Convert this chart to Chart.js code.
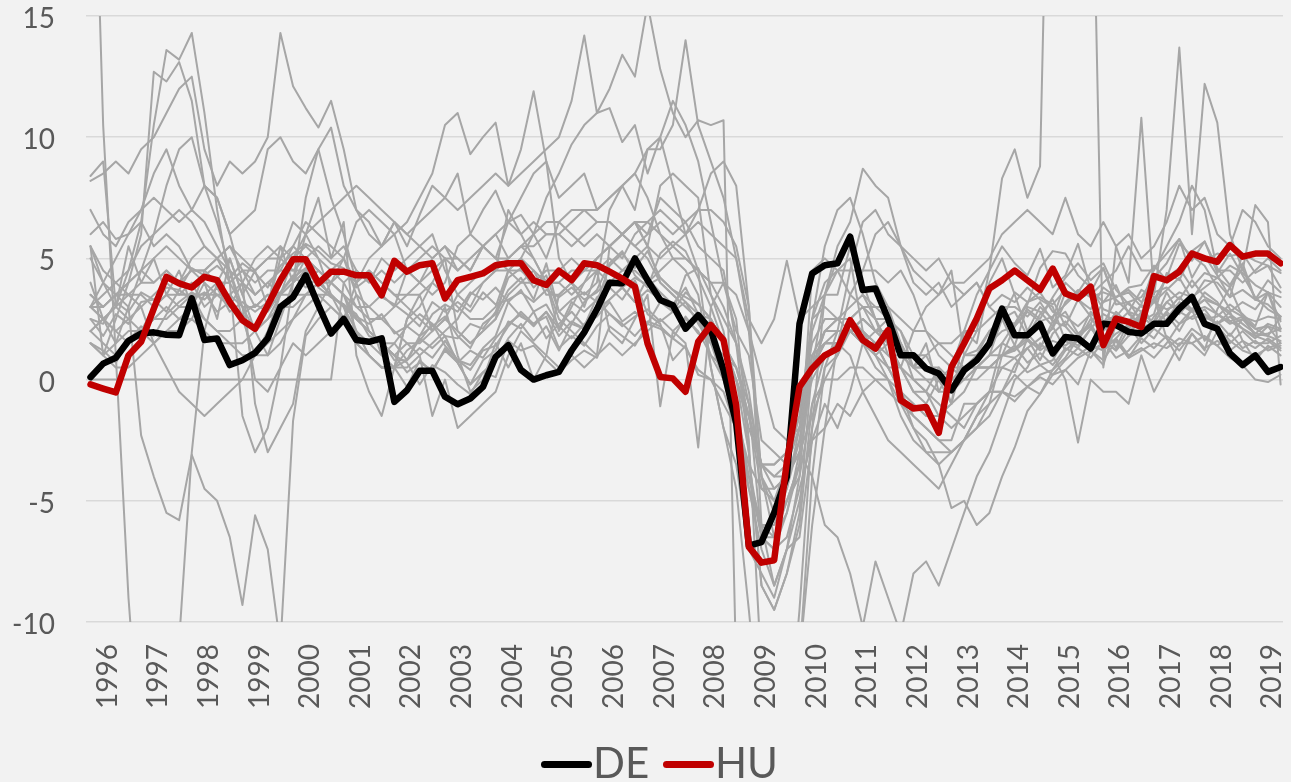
<!DOCTYPE html>
<html>
<head>
<meta charset="utf-8">
<title>GDP growth, DE and HU against the other EU countries</title>
<script src="https://cdn.jsdelivr.net/npm/chart.js@4.4.1/dist/chart.umd.min.js"></script>
<style>
  html, body { margin: 0; padding: 0; background: #f2f2f2; overflow: hidden; }
  #box { position: relative; width: 1291px; height: 782px; overflow: hidden; }
  #legend { position: absolute; left: 0; top: 0; width: 1291px; height: 782px; pointer-events: none;
            font-family: Lato, 'Open Sans', sans-serif; font-size: 42px; color: #595959; }
  #legend .key { position: absolute; top: 761px; width: 51px; height: 7px; border-radius: 3.5px; }
  #legend .lab { position: absolute; top: 741px; line-height: 42px; white-space: nowrap; }
</style>
</head>
<body>
<div id="box">
  <canvas id="growthChart"></canvas>
  <div id="legend"></div>
</div>
<script>
// year labels on the x axis (one per year, quarterly data underneath)
const tickYears = ['1996', '1997', '1998', '1999', '2000', '2001', '2002', '2003', '2004', '2005', '2006', '2007',
                   '2008', '2009', '2010', '2011', '2012', '2013', '2014', '2015', '2016', '2017', '2018', '2019'];
const yTicks = [-10, -5, 0, 5, 10, 15];

// highlighted countries, y/y growth in %, one value per quarter (95 quarters)
const de = [0.1,
  0.66, 0.9, 1.6, 1.9,  1.95, 1.85, 1.83, 3.35,  1.63, 1.7, 0.6, 0.8,  1.1, 1.7, 3.0, 3.4,  4.3, 3.07, 1.9, 2.5,  1.63, 1.56, 1.7, -0.92,
  -0.44, 0.36, 0.36, -0.71,  -1.02, -0.78, -0.3, 0.94,  1.42, 0.4, 0.0, 0.18,  0.32, 1.2, 1.95, 2.9,  4.0, 3.97, 5.0, 4.1,  3.28, 3.07, 2.1, 2.66,
  2.04, 0.4, -1.8, -6.85,  -6.7, -5.5, -4.0, 2.3,  4.38, 4.72, 4.8, 5.9,  3.7, 3.76, 2.5, 1.0,  1.0, 0.46, 0.25, -0.44,  0.39, 0.8, 1.49, 2.93,
  1.83, 1.83, 2.3, 1.08,  1.76, 1.7, 1.28, 2.3,  2.25, 1.97, 1.9, 2.3,  2.3, 2.93, 3.41, 2.3,  2.1, 1.08, 0.6, 1.0,  0.32, 0.52];

const hu = [-0.2,
  -0.37, -0.53, 1.0, 1.56,  2.93, 4.24, 3.97, 3.8,  4.24, 4.1, 3.2, 2.45,  2.1, 3.07, 4.1, 4.96,  4.96, 3.97, 4.45, 4.45,  4.3, 4.3, 3.48, 4.9,
  4.45, 4.72, 4.8, 3.35,  4.1, 4.24, 4.38, 4.72,  4.8, 4.8, 4.1, 3.9,  4.49, 4.1, 4.8, 4.72,  4.45, 4.17, 3.83, 1.49,  0.11, 0.05, -0.5, 1.56,
  2.25, 1.63, -1.05, -6.9,  -7.55, -7.45, -3.4, -0.3,  0.46, 1.0, 1.28, 2.45,  1.63, 1.28, 2.04, -0.85,  -1.19, -1.13, -2.2, 0.52,  1.49, 2.52, 3.76, 4.1,
  4.5, 4.1, 3.7, 4.58,  3.55, 3.35, 3.83, 1.42,  2.52, 2.38, 2.17, 4.27,  4.1, 4.45, 5.2, 5.0,  4.86, 5.55, 5.07, 5.2,  5.2, 4.8];

// the other countries, drawn in grey
const ee = [8.4,
  9.0, 3.0, 4.5, 6.5,  10.5, 13.6, 13.2, 14.3,  11.0, 7.0, 4.0, -1.5,  -3.0, -2.0, 0.5, 4.0,  7.5, 9.5, 10.4, 8.0,  7.0, 6.5, 5.5, 6.5,
  5.5, 6.8, 8.0, 7.5,  8.5, 6.0, 7.0, 7.8,  6.5, 6.8, 6.0, 7.5,  8.5, 9.7, 10.5, 11.0,  11.2, 9.8, 10.5, 8.5,  10.0, 8.0, 6.0, 4.5,
  0.5, -2.0, -4.5, -9.5,  -15.0, -16.5, -15.5, -9.5,  -2.0, 3.5, 5.5, 6.5,  8.7, 8.0, 7.5, 5.5,  4.5, 4.0, 3.5, 4.5,  1.0, 1.2, 2.0, 2.5,
  1.4, 3.0, 2.8, 2.2,  1.2, 1.6, 1.4, 2.3,  1.3, 2.4, 3.1, 4.6,  5.2, 5.8, 4.2, 5.1,  4.3, 3.4, 5.2, 4.4,  4.7, 3.8];
const lv = [5.5,
  1.0, 2.5, 4.0, 6.0,  12.7, 12.3, 13.1, 11.5,  8.0, 6.5, 4.5, 2.5,  1.0, 2.0, 3.5, 5.0,  6.0, 6.5, 7.0, 7.5,  8.0, 7.5, 7.0, 6.5,
  6.0, 6.5, 7.0, 7.5,  7.0, 7.5, 8.0, 8.5,  8.0, 8.5, 9.0, 9.5,  10.0, 11.5, 14.2, 11.0,  12.0, 13.4, 12.5, 15.5,  12.8, 11.0, 10.0, 10.7,
  10.5, 10.7, -12.0, -18.0,  -19.0, -18.0, -15.0, -11.5,  -6.0, -2.0, 1.5, 3.5,  4.5, 6.0, 6.5, 5.5,  5.0, 4.5, 5.0, 4.0,  3.5, 4.0, 3.0, 2.5,
  2.8, 1.8, 2.7, 3.3,  2.2, 3.3, 2.6, 1.7,  1.2, 2.1, 2.8, 3.3,  4.2, 4.6, 5.3, 5.7,  4.4, 5.2, 4.3, 3.4,  2.9, 2.6];
const lt = [3.0,
  4.0, 5.0, 6.0, 7.0,  8.5, 9.5, 8.0, 7.0,  8.0, 7.5, 6.0, 4.0,  -1.0, -3.0, -2.0, -1.0,  2.0, 3.0, 4.0, 5.0,  6.5, 7.0, 6.5, 6.0,
  6.5, 7.5, 8.5, 10.5,  11.0, 9.3, 10.0, 10.6,  8.0, 9.5, 11.9, 9.0,  7.5, 8.0, 8.5, 7.0,  7.5, 8.0, 7.0, 9.5,  10.0, 11.5, 10.5, 9.0,
  6.5, 4.0, 2.5, -2.5,  -12.0, -14.5, -13.5, -11.5,  -4.0, 0.5, 2.0, 4.5,  6.5, 7.0, 6.0, 5.5,  4.0, 3.5, 4.0, 3.0,  3.5, 4.0, 3.0, 3.5,
  3.2, 3.8, 3.3, 3.0,  1.6, 1.3, 2.1, 2.7,  2.4, 1.9, 2.7, 3.2,  3.7, 4.2, 3.3, 4.1,  4.0, 3.4, 3.7, 3.3,  4.1, 3.6];
const bg = [28.0,
  10.5, 1.0, -9.0, -16.0,  -20.0, -15.0, -10.8, -3.0,  2.0, 4.0, 5.0, 3.5,  2.0, 1.0, 2.5, 4.0,  5.0, 5.5, 5.0, 5.5,  4.5, 4.0, 4.5, 4.0,
  4.5, 5.0, 5.5, 5.0,  5.0, 4.5, 5.5, 6.0,  6.5, 6.0, 6.5, 6.0,  6.0, 5.5, 6.0, 6.5,  6.5, 6.0, 6.5, 6.0,  6.5, 6.0, 6.5, 7.0,
  7.0, 6.5, 5.5, 3.0,  -4.0, -5.5, -5.0, -4.0,  -1.0, 0.0, 1.0, 2.0,  2.5, 2.0, 1.5, 1.0,  0.5, 0.5, 0.0, 0.5,  0.0, 0.5, 1.0, 1.5,
  1.2, 1.6, 1.3, 2.2,  3.6, 3.3, 2.9, 3.8,  3.4, 3.7, 3.2, 3.6,  3.8, 3.3, 4.1, 3.4,  3.1, 2.8, 3.2, 2.9,  3.6, 3.4];
const ro = [5.5,
  4.0, 3.5, 3.0, -2.3,  -4.0, -5.5, -5.8, -3.1,  -4.5, -5.0, -6.5, -9.3,  -5.6, -7.0, -11.0, -1.7,  1.8, 2.5, 3.0, 2.5,  4.0, 5.0, 5.5, 6.0,
  4.5, 4.0, 5.0, 5.5,  4.5, 5.0, 5.5, 5.0,  6.5, 7.5, 8.5, 9.0,  5.0, 4.0, 3.5, 4.0,  7.0, 8.0, 8.5, 7.5,  6.0, 5.5, 6.0, 7.0,
  8.5, 9.0, 8.0, 3.0,  -6.0, -8.5, -7.0, -6.5,  -2.5, -1.0, -2.0, -0.5,  1.5, 2.0, 2.5, 2.0,  0.5, 1.5, -0.5, 0.5,  2.0, 1.5, 4.0, 5.0,
  3.5, 2.0, 3.0, 2.5,  4.0, 3.5, 3.5, 4.0,  4.5, 5.5, 4.5, 4.5,  5.5, 6.5, 8.0, 7.0,  4.5, 4.5, 4.0, 4.5,  5.0, 4.5];
const pl = [7.0,
  6.0, 5.5, 6.5, 7.0,  7.5, 7.0, 6.5, 7.0,  6.5, 5.5, 4.5, 3.0,  2.0, 3.0, 5.0, 6.5,  6.0, 5.0, 3.5, 2.5,  2.0, 1.0, 0.5, 0.5,
  0.5, 1.0, 1.5, 2.0,  2.5, 3.5, 4.0, 4.5,  7.0, 6.0, 5.0, 4.0,  2.0, 3.0, 4.0, 5.0,  5.5, 6.0, 6.5, 6.5,  7.0, 6.5, 6.0, 6.5,
  6.0, 5.5, 5.0, 2.5,  1.5, 2.5, 4.9, 2.5,  3.0, 3.5, 4.5, 4.5,  4.5, 4.5, 4.0, 4.5,  3.5, 2.0, 1.0, 0.5,  0.5, 1.0, 2.0, 2.5,
  3.6, 3.2, 3.4, 3.1,  3.7, 3.3, 3.6, 4.6,  3.1, 3.2, 2.4, 2.7,  4.4, 4.1, 5.2, 4.9,  5.2, 5.1, 5.2, 4.9,  4.7, 4.4];
const ie = [8.2,
  8.5, 9.0, 8.5, 9.5,  10.0, 11.0, 12.0, 12.5,  9.5, 8.0, 9.0, 8.5,  9.0, 10.0, 14.3, 12.1,  11.2, 10.4, 11.5, 9.5,  7.0, 6.0, 5.5, 6.5,
  6.0, 5.5, 6.0, 4.5,  3.5, 3.0, 4.0, 4.5,  4.5, 5.0, 6.0, 5.0,  6.5, 6.0, 5.5, 6.0,  5.5, 5.0, 6.0, 6.5,  6.0, 5.0, 4.5, 3.5,
  0.5, -2.0, -3.5, -7.0,  -8.0, -9.0, -7.0, -5.0,  -2.0, 0.5, 1.0, 2.5,  3.0, 2.5, 1.5, 0.5,  0.0, -0.5, 0.5, -1.0,  1.0, 2.0, 4.5, 8.3,
  9.5, 7.5, 8.8, 32.0,  30.0, 28.0, 25.7, 0.5,  5.5, 4.0, 10.8, 3.5,  7.0, 13.7, 6.0, 12.2,  10.6, 6.0, 4.5, 7.2,  6.5, -0.2];
const el = [2.0,
  2.5, 3.0, 2.5, 3.0,  3.5, 4.0, 3.5, 4.0,  3.0, 3.5, 3.0, 4.0,  3.0, 3.5, 3.0, 3.5,  4.0, 4.5, 4.0, 4.5,  4.0, 4.5, 4.0, 3.5,
  3.5, 4.0, 3.5, 4.0,  5.5, 6.0, 5.5, 6.0,  5.0, 5.5, 5.0, 4.0,  2.5, 2.0, 1.5, 1.0,  5.5, 6.0, 6.5, 5.5,  4.0, 3.5, 3.0, 2.5,
  1.5, 1.0, 0.5, -1.5,  -3.5, -4.5, -4.0, -3.0,  -4.0, -6.0, -6.5, -8.0,  -10.2, -7.5, -9.0, -10.5,  -8.0, -7.5, -8.5, -7.0,  -5.5, -4.0, -3.0, -1.5,
  0.0, 0.5, 1.5, 1.0,  0.0, -2.6, 0.0, -0.5,  -0.5, -1.0, 1.0, -0.5,  0.5, 1.5, 1.5, 1.0,  2.0, 1.5, 2.0, 1.5,  1.5, 1.8];
const cy = [3.0,
  2.5, 2.0, 1.5, 2.0,  2.5, 3.0, 2.5, 3.0,  4.5, 5.0, 5.5, 5.0,  4.5, 5.0, 5.5, 5.0,  5.5, 5.0, 4.5, 5.0,  4.0, 4.5, 4.0, 3.5,
  3.0, 2.5, 2.0, 2.5,  2.0, 1.5, 2.0, 2.5,  3.5, 4.0, 4.5, 4.0,  4.0, 3.5, 4.0, 4.5,  4.0, 4.5, 4.5, 4.0,  4.5, 5.0, 5.0, 4.5,
  4.0, 4.0, 3.5, 2.0,  0.0, -2.0, -2.5, -2.0,  0.0, 1.0, 1.5, 2.0,  1.5, 0.5, 0.0, -1.0,  -2.0, -2.5, -3.5, -5.3,  -5.0, -6.0, -5.5, -4.0,
  -2.8, -1.3, -0.6, 0.4,  1.2, 1.7, 2.3, 3.2,  3.4, 3.8, 3.9, 4.7,  4.1, 4.6, 3.8, 4.4,  4.2, 3.8, 4.6, 3.3,  3.6, 3.0];
const pt = [3.5,
  3.0, 3.5, 4.0, 4.5,  4.0, 4.5, 4.0, 5.0,  5.5, 5.0, 4.5, 4.0,  3.5, 4.0, 3.5, 4.0,  4.5, 4.0, 3.5, 3.0,  2.5, 2.0, 1.5, 1.0,
  1.5, 1.0, -1.5, 0.0,  -2.0, -1.5, -1.0, -0.5,  1.0, 2.0, 1.5, 1.0,  0.5, 1.0, 0.5, 1.0,  1.5, 1.0, 1.5, 2.0,  2.5, 2.0, 2.5, 2.0,
  1.0, 0.5, 0.0, -2.0,  -3.5, -4.0, -3.5, -2.0,  1.0, 1.5, 1.5, 1.0,  -0.5, -1.5, -2.5, -3.0,  -3.5, -4.0, -4.5, -3.5,  -2.5, -1.5, -1.0, 1.0,
  0.9, 1.3, 0.6, 0.8,  1.7, 1.4, 2.1, 1.6,  0.9, 1.2, 1.8, 2.6,  3.2, 2.8, 2.5, 2.7,  2.3, 2.6, 2.1, 1.8,  1.9, 2.1];
const es = [2.5,
  1.8, 2.7, 2.3, 3.2,  3.3, 3.8, 3.7, 4.6,  4.3, 4.7, 4.2, 4.8,  4.4, 3.8, 4.7, 5.2,  5.6, 5.3, 4.8, 4.6,  3.8, 4.2, 3.4, 3.1,
  2.7, 2.2, 3.2, 2.8,  3.2, 2.8, 3.6, 3.1,  3.3, 3.6, 3.2, 3.7,  3.4, 3.8, 3.3, 3.6,  4.1, 3.8, 4.2, 3.9,  4.2, 3.7, 3.4, 3.1,
  2.5, 1.5, 0.0, -1.5,  -3.5, -4.0, -4.0, -3.0,  -1.5, 0.0, 0.0, 0.5,  0.5, 0.0, -0.5, -1.0,  -1.5, -2.0, -2.5, -3.0,  -2.5, -2.0, -1.5, -0.5,
  0.6, 1.3, 1.7, 2.1,  3.2, 3.7, 3.4, 3.6,  3.4, 3.6, 3.0, 3.2,  2.9, 3.1, 2.8, 3.0,  2.7, 2.3, 2.5, 2.1,  2.2, 2.0];
const it = [1.5,
  1.0, 0.5, 0.5, 1.0,  1.5, 2.0, 2.0, 2.5,  2.0, 1.5, 1.5, 1.0,  1.0, 1.0, 1.5, 2.5,  3.0, 3.5, 3.5, 3.0,  2.5, 2.0, 1.5, 1.0,
  0.3, 0.7, 0.4, 1.2,  0.7, -0.2, 0.3, 0.1,  1.6, 1.2, 1.4, 0.8,  0.3, 0.8, 1.2, 0.9,  2.2, 1.8, 1.4, 2.3,  2.1, 1.7, 1.3, 0.4,
  0.0, -1.0, -2.0, -3.5,  -6.5, -6.5, -5.0, -3.5,  0.5, 1.5, 1.5, 2.0,  1.5, 1.0, 0.5, -0.5,  -2.0, -3.0, -3.0, -3.0,  -2.5, -2.0, -1.0, -0.5,
  0.2, -0.3, 0.1, -0.2,  0.4, 0.9, 1.2, 0.8,  1.6, 0.9, 1.2, 1.5,  1.3, 1.7, 1.5, 1.8,  1.4, 0.9, 0.6, 0.0,  -0.1, 0.2];
const fi = [3.0,
  3.5, 4.0, 4.5, 5.5,  6.0, 6.5, 7.0, 6.5,  5.5, 5.0, 5.5, 4.5,  3.5, 4.0, 4.5, 5.5,  6.5, 6.0, 5.5, 5.0,  3.5, 2.0, 1.5, 1.5,
  0.8, 1.8, 2.2, 2.6,  1.8, 1.3, 2.3, 2.7,  3.7, 4.2, 3.3, 4.8,  2.8, 2.3, 3.2, 3.7,  4.8, 5.3, 4.3, 3.8,  5.2, 5.7, 5.3, 4.2,
  3.0, 1.5, 0.0, -3.0,  -8.5, -9.5, -8.0, -5.5,  0.5, 3.5, 3.5, 5.5,  3.5, 2.5, 2.5, 1.5,  0.0, -0.5, -1.5, -2.0,  -1.5, -1.0, -0.5, -0.5,
  -0.9, -0.3, -0.6, 0.2,  0.4, -0.2, 1.2, 0.6,  2.3, 2.8, 2.1, 2.4,  3.6, 2.7, 3.3, 2.6,  2.3, 2.8, 1.6, 1.3,  1.7, 1.3];
const sk = [6.0,
  6.5, 5.8, 6.0, 6.5,  5.5, 6.0, 5.5, 4.5,  4.5, 5.0, 4.0, 3.0,  0.0, -0.5, 0.5, 1.5,  1.0, 1.5, 2.0, 2.5,  3.5, 3.0, 3.5, 3.0,
  4.5, 4.0, 4.5, 5.0,  4.5, 5.0, 5.5, 5.0,  5.0, 5.5, 5.5, 6.0,  6.0, 6.5, 7.0, 7.0,  7.5, 8.0, 8.5, 9.5,  9.5, 10.5, 14.0, 10.5,
  9.0, 7.5, 5.0, 2.0,  -4.0, -6.5, -5.0, -3.5,  4.5, 5.0, 4.5, 3.5,  3.0, 3.0, 3.0, 2.5,  2.0, 2.0, 1.5, 1.0,  0.5, 0.5, 0.5, 1.0,
  2.2, 2.8, 2.4, 2.6,  3.1, 3.6, 4.4, 4.8,  3.7, 3.1, 2.8, 2.3,  3.2, 3.6, 3.4, 3.8,  4.2, 4.7, 4.4, 3.9,  3.6, 2.1];
const si = [3.5,
  3.0, 3.5, 4.0, 4.5,  5.0, 5.5, 5.0, 4.5,  4.0, 3.5, 3.5, 4.0,  5.0, 5.5, 5.0, 4.5,  4.5, 4.0, 4.0, 3.5,  3.0, 3.0, 2.5, 3.0,
  3.5, 3.5, 4.0, 3.5,  3.0, 2.5, 2.5, 3.0,  4.5, 4.5, 4.0, 4.0,  4.0, 4.5, 4.5, 5.0,  5.5, 6.0, 5.5, 6.0,  7.5, 7.0, 6.5, 5.5,
  5.0, 4.5, 1.5, -3.0,  -8.5, -9.5, -8.0, -6.0,  -1.0, 1.0, 1.5, 2.0,  2.0, 1.0, 0.0, -1.5,  -2.5, -3.0, -3.5, -3.0,  -2.5, -1.5, -0.5, 1.5,
  2.3, 3.2, 3.6, 2.8,  2.6, 2.2, 2.7, 2.4,  2.6, 3.2, 3.4, 4.2,  4.8, 5.8, 4.9, 5.7,  4.6, 3.9, 4.8, 3.3,  3.1, 2.6];
const hr = [0,
  0, 0, 0, 0,  0, 0, 0, 0,  0, 0, 0, 0,  0, 0, 0, 0,  0, 0, 0, 4.0,  4.5, 4.0, 5.0, 4.5,
  5.0, 5.5, 5.0, 5.5,  5.0, 4.5, 5.5, 5.0,  4.5, 4.0, 4.0, 4.5,  4.5, 5.0, 4.5, 4.5,  5.0, 4.5, 5.0, 5.5,  5.0, 5.5, 5.0, 4.5,
  4.0, 3.0, 1.5, -1.0,  -6.5, -7.0, -6.5, -4.5,  -2.5, -2.0, -1.0, -1.5,  -0.5, 0.0, 0.0, -0.5,  -1.5, -2.0, -2.5, -2.5,  -1.0, -1.0, -0.5, -0.5,
  -0.7, -0.3, 0.2, 0.4,  0.9, 1.7, 2.8, 2.3,  3.3, 2.8, 3.7, 3.4,  2.3, 3.1, 2.9, 2.5,  2.6, 3.1, 2.7, 2.2,  3.6, 2.4];
const mt = [5.0,
  4.0, 3.0, 5.5, 4.0,  5.0, 3.5, 4.5, 3.0,  4.0, 2.5, 5.0, 3.5,  4.5, 3.0, 5.5, 4.0,  6.0, 7.5, 5.0, 6.5,  1.0, -0.5, -1.5, 0.5,
  2.5, 3.5, 2.0, 3.0,  1.0, -0.5, 0.0, 1.5,  0.5, 1.5, 0.0, 1.0,  3.5, 4.0, 3.0, 4.5,  2.0, 1.5, 2.5, 3.5,  -1.1, 2.0, 1.5, -2.8,
  3.0, 4.0, 2.0, 1.0,  -2.5, -3.0, -3.5, -1.5,  2.5, 4.0, 4.5, 5.0,  2.0, 1.0, 1.5, 0.5,  2.0, 3.0, 3.5, 4.0,  4.0, 4.5, 5.0, 6.0,
  6.5, 7.0, 6.5, 6.0,  7.5, 6.0, 5.5, 6.5,  5.5, 6.0, 5.0, 5.5,  6.5, 8.0, 7.0, 7.5,  6.0, 5.5, 7.0, 6.5,  5.5, 5.0];
const nl = [3.0,
  3.0, 3.5, 3.5, 4.0,  4.0, 4.5, 4.0, 4.5,  4.5, 4.0, 4.0, 4.5,  4.5, 5.0, 5.0, 5.5,  5.0, 4.5, 4.0, 3.5,  2.5, 2.0, 1.5, 1.0,
  0.7, -0.2, 0.6, 0.3,  -0.2, -0.6, 0.3, 0.8,  1.7, 2.3, 1.6, 2.2,  1.2, 2.3, 2.1, 2.8,  3.3, 3.8, 3.2, 3.7,  3.3, 2.8, 4.3, 4.6,
  3.5, 2.5, 1.5, -0.5,  -4.0, -5.0, -4.5, -2.5,  0.5, 1.5, 1.5, 2.0,  2.5, 2.0, 1.5, 0.5,  -0.5, -0.5, -1.0, -1.5,  -2.0, -1.0, -0.5, 0.5,
  0.3, 1.7, 0.8, 1.9,  2.4, 1.8, 2.2, 1.2,  1.7, 2.3, 2.6, 2.2,  2.8, 3.4, 2.9, 3.3,  3.1, 2.7, 2.3, 1.9,  1.8, 1.6];
const se = [2.0,
  1.5, 1.0, 1.5, 2.0,  2.5, 2.5, 3.0, 3.5,  3.5, 4.0, 4.0, 4.5,  4.0, 4.5, 4.5, 4.5,  5.0, 4.5, 4.0, 3.5,  2.0, 1.5, 1.0, 1.5,
  2.2, 2.7, 2.3, 1.8,  1.7, 2.3, 2.1, 2.8,  4.2, 4.6, 3.8, 4.3,  2.8, 3.3, 3.6, 3.2,  4.7, 5.2, 4.6, 5.3,  4.2, 3.7, 3.2, 2.7,
  1.5, 0.5, -1.0, -4.0,  -6.5, -7.0, -5.5, -3.0,  2.5, 5.5, 7.0, 7.5,  6.0, 4.0, 3.0, 1.5,  0.5, 1.0, 0.0, -0.5,  1.0, 1.0, 1.5, 2.0,
  2.2, 2.9, 2.5, 3.4,  4.2, 4.8, 4.1, 4.6,  3.3, 2.8, 2.6, 2.2,  2.8, 2.3, 2.9, 3.3,  2.7, 2.4, 2.1, 1.7,  2.2, 1.5];
const cz = [5.5,
  4.5, 4.0, 3.5, 3.0,  1.5, 0.5, -0.5, -1.0,  -1.5, -1.0, -0.5, 0.0,  1.0, 1.5, 2.0, 2.5,  3.5, 4.0, 4.5, 4.0,  3.0, 2.5, 2.5, 2.0,
  1.5, 1.5, 2.0, 2.5,  3.5, 4.0, 4.5, 4.5,  5.0, 5.5, 6.0, 6.5,  6.5, 7.0, 7.0, 6.5,  6.5, 6.0, 5.5, 5.0,  4.0, 3.5, 3.0, 2.5,
  1.0, 0.0, -1.5, -3.5,  -4.5, -5.0, -3.5, -2.0,  2.5, 3.0, 2.5, 2.0,  2.0, 1.5, 0.5, -0.5,  -1.0, -1.5, -1.5, -1.0,  -0.5, 0.5, 1.0, 2.5,
  2.3, 3.1, 4.6, 5.3,  5.2, 4.3, 3.8, 2.9,  2.7, 1.8, 2.6, 3.2,  4.2, 5.6, 5.1, 4.7,  3.8, 2.9, 2.6, 2.4,  2.6, 2.5];
const uk = [2.5,
  2.3, 3.2, 2.8, 3.6,  3.3, 2.8, 3.7, 3.3,  3.6, 2.8, 3.2, 2.7,  3.1, 2.8, 3.6, 4.2,  4.6, 3.8, 3.4, 3.1,  2.6, 2.3, 2.7, 1.9,
  2.2, 1.8, 2.7, 3.1,  2.8, 3.6, 3.3, 3.8,  3.2, 2.6, 2.3, 2.8,  2.1, 3.2, 2.8, 3.3,  2.7, 2.2, 2.6, 2.9,  2.4, 2.8, 3.2, 2.3,
  1.5, 0.0, -2.0, -4.5,  -6.0, -6.0, -4.5, -2.0,  1.0, 2.0, 2.0, 2.0,  1.5, 1.5, 1.0, 1.0,  1.0, 1.0, 1.5, 1.5,  2.0, 2.0, 2.5, 3.0,
  3.0, 2.6, 3.2, 2.4,  2.8, 1.9, 2.3, 1.4,  1.9, 2.2, 1.5, 2.1,  1.7, 1.2, 1.9, 1.3,  1.6, 1.2, 1.6, 0.8,  1.4, 1.0];
const fr = [1.5,
  1.2, 0.7, 1.6, 2.2,  1.8, 2.7, 3.2, 3.6,  3.3, 3.8, 2.8, 3.2,  2.8, 3.2, 3.6, 4.3,  3.8, 4.2, 3.4, 3.1,  2.7, 1.8, 1.6, 0.8,
  0.8, 1.3, 0.9, 1.6,  0.8, 0.4, 1.2, 1.4,  2.2, 2.8, 2.3, 2.6,  1.3, 1.8, 1.4, 2.2,  2.7, 2.3, 1.8, 2.4,  2.2, 1.7, 2.6, 1.9,
  1.5, 0.5, 0.0, -1.5,  -3.5, -3.5, -3.0, -1.5,  1.0, 1.5, 2.0, 2.0,  2.5, 2.0, 2.0, 1.5,  0.5, 0.5, 0.0, 0.0,  0.0, 0.5, 0.5, 1.0,
  1.4, 0.7, 1.1, 0.6,  1.3, 1.0, 1.4, 1.2,  1.7, 1.0, 1.3, 0.9,  1.5, 2.3, 2.6, 2.9,  2.2, 1.6, 1.2, 1.0,  1.3, 1.5];
const at = [2.0,
  2.5, 2.0, 2.5, 2.0,  1.5, 2.0, 2.5, 2.5,  3.5, 3.5, 3.5, 3.0,  3.0, 3.5, 3.5, 3.5,  3.5, 3.5, 3.0, 2.5,  1.5, 1.0, 0.5, 0.5,
  0.8, 1.7, 1.3, 1.8,  0.7, 1.2, 0.9, 1.7,  2.3, 2.7, 2.2, 2.8,  1.8, 2.4, 2.1, 2.9,  3.3, 3.8, 3.2, 4.2,  3.6, 3.1, 3.8, 2.7,
  2.5, 1.5, 0.5, -1.5,  -4.5, -4.5, -4.0, -2.5,  0.5, 2.0, 2.5, 3.0,  3.5, 3.0, 2.5, 2.0,  1.0, 0.5, 0.5, 0.0,  0.0, 0.5, 0.5, 0.5,
  0.9, 0.3, 0.6, 0.2,  0.8, 1.3, 0.9, 1.6,  1.2, 1.8, 2.1, 1.7,  2.5, 3.2, 2.8, 3.6,  3.2, 2.4, 2.6, 1.8,  1.6, 1.2];
const be = [1.5,
  1.0, 1.5, 2.0, 2.0,  3.0, 3.5, 3.5, 3.5,  2.5, 2.0, 1.5, 1.5,  2.0, 2.5, 3.5, 4.0,  4.5, 4.0, 3.5, 3.0,  2.0, 1.0, 0.5, 0.5,
  1.2, 1.6, 2.3, 1.4,  0.8, 0.6, 1.3, 1.8,  3.2, 3.7, 2.8, 3.1,  2.2, 1.7, 2.3, 2.6,  3.2, 2.4, 2.8, 2.3,  3.2, 2.8, 3.6, 3.1,
  2.5, 1.5, 0.5, -1.0,  -3.5, -3.5, -3.0, -1.0,  1.5, 2.5, 2.5, 2.5,  3.0, 2.0, 1.5, 1.0,  0.5, 0.0, -0.5, -0.5,  0.0, 0.0, 0.5, 1.0,
  1.3, 1.7, 1.2, 1.6,  1.4, 1.8, 1.2, 1.5,  1.6, 0.9, 1.7, 1.3,  1.8, 1.4, 2.1, 1.7,  1.4, 1.9, 1.3, 1.6,  1.2, 1.4];
const dk = [3.0,
  2.5, 3.0, 3.5, 3.5,  3.0, 3.5, 3.0, 3.0,  2.5, 2.0, 2.0, 2.5,  2.0, 2.5, 3.0, 3.0,  3.5, 4.0, 3.5, 3.0,  1.5, 1.0, 0.5, 0.5,
  -0.3, 0.8, 0.3, 1.3,  0.7, -0.2, 0.8, 1.2,  2.4, 2.1, 2.8, 1.7,  2.3, 2.8, 2.2, 3.4,  3.8, 3.3, 4.1, 2.7,  2.3, 0.8, 1.4, 0.2,
  0.0, -0.5, -2.0, -4.0,  -6.0, -6.5, -5.5, -3.5,  0.5, 2.0, 2.5, 2.5,  2.0, 1.5, 0.5, 0.5,  0.0, 0.0, 0.0, 0.0,  0.5, 0.5, 1.0, 1.0,
  1.2, 1.9, 1.3, 2.4,  2.2, 1.6, 2.5, 2.0,  2.8, 2.3, 3.1, 2.2,  2.7, 2.0, 2.9, 1.6,  2.4, 1.8, 2.5, 1.9,  2.3, 2.1];
const lu = [4.0,
  2.5, 1.5, 3.0, 4.5,  6.0, 8.0, 9.5, 10.0,  8.0, 7.5, 6.0, 6.5,  7.0, 9.5, 10.0, 9.0,  8.5, 9.5, 7.5, 6.0,  4.0, 2.5, 1.0, 0.5,
  2.5, 3.0, 4.0, 5.0,  2.0, 1.5, 2.0, 2.5,  4.5, 5.0, 4.5, 3.5,  3.5, 4.0, 4.5, 5.0,  5.5, 6.0, 6.5, 5.5,  8.0, 8.5, 8.0, 7.5,
  3.5, 2.0, -1.0, -4.5,  -7.0, -8.5, -7.0, -4.0,  2.0, 3.5, 5.0, 6.0,  4.0, 2.5, 1.0, 0.5,  -0.5, -1.0, 0.0, -1.0,  2.0, 3.5, 4.5, 5.5,
  4.8, 4.3, 5.4, 3.8,  4.3, 5.6, 3.7, 3.2,  3.9, 2.7, 2.3, 3.4,  1.7, 0.8, 1.9, 1.2,  2.9, 3.8, 2.6, 2.1,  1.8, 2.6];

const grayNames = ['EE', 'LV', 'LT', 'BG', 'RO', 'PL', 'IE', 'EL', 'CY', 'PT', 'ES', 'IT', 'FI',
                   'SK', 'SI', 'HR', 'MT', 'NL', 'SE', 'CZ', 'UK', 'FR', 'AT', 'BE', 'DK', 'LU'];
const grayValues = [ee, lv, lt, bg, ro, pl, ie, el, cy, pt, es, it, fi,
                    sk, si, hr, mt, nl, se, cz, uk, fr, at, be, dk, lu];

[de, hu, ...grayValues].forEach((arr, k) => {
  if (arr.length !== 95) throw new Error('series ' + k + ' has ' + arr.length + ' values');
});

const TICK_SHIFT = 1.35; // year label sits a bit after the first quarter of that year
const toPoints = arr => arr.map((v, i) => ({ x: i, y: v }));

const datasets = [
  { label: 'HU', data: toPoints(hu), borderColor: '#c00000', borderWidth: 6.5, order: 0 },
  { label: 'DE', data: toPoints(de), borderColor: '#000000', borderWidth: 6.5, order: 1 }
];
grayValues.forEach((arr, k) => {
  datasets.push({ label: grayNames[k], data: toPoints(arr), borderColor: '#a6a6a6', borderWidth: 2, order: 2 });
});

Chart.defaults.font.family = "Lato, 'Open Sans', sans-serif";
Chart.defaults.color = '#595959';

const ctx = document.getElementById('growthChart').getContext('2d');
const myChart = new Chart(ctx, {
  type: 'line',
  data: { datasets: datasets },
  options: {
    responsive: true,
    maintainAspectRatio: false,
    animation: false,
    layout: { padding: { top: 16, right: 8, bottom: 50, left: 0 } },
    elements: {
      point: { radius: 0, hoverRadius: 0 },
      line: { tension: 0, borderJoinStyle: 'round', borderCapStyle: 'round', fill: false }
    },
    plugins: {
      legend: { display: false },
      tooltip: { enabled: false }
    },
    scales: {
      x: {
        type: 'linear',
        min: -0.355,
        max: 94.19,
        grid: { display: false, drawTicks: false },
        border: { display: false },
        afterBuildTicks: scale => {
          scale.ticks = tickYears.map((y, k) => ({ value: TICK_SHIFT + 4 * k }));
        },
        ticks: {
          autoSkip: false,
          minRotation: 90,
          maxRotation: 90,
          padding: 22,
          font: { size: 28 },
          color: '#595959',
          callback: (value, index) => tickYears[index]
        },
        afterFit: scale => {
          scale.height = 110;
          scale.paddingLeft = 0;
          scale.paddingRight = 0;
        }
      },
      y: {
        min: -10,
        max: 15,
        afterBuildTicks: scale => {
          scale.ticks = yTicks.map(v => ({ value: v }));
        },
        grid: { color: '#d9d9d9', lineWidth: 1.5, drawTicks: false },
        border: { display: false },
        ticks: {
          padding: 31,
          labelOffset: 3,
          font: { size: 28 },
          color: '#595959'
        },
        afterFit: scale => {
          scale.width = 86;
          scale.paddingTop = 0;
          scale.paddingBottom = 0;
        }
      }
    }
  }
});

// legend with only the two highlighted countries
const legendItems = [
  { name: 'DE', color: '#000000', keyLeft: 541, textLeft: 593 },
  { name: 'HU', color: '#c00000', keyLeft: 663, textLeft: 715 }
];
const legend = document.getElementById('legend');
legendItems.forEach(item => {
  const key = document.createElement('span');
  key.className = 'key';
  key.style.left = item.keyLeft + 'px';
  key.style.background = item.color;
  const lab = document.createElement('span');
  lab.className = 'lab';
  lab.style.left = item.textLeft + 'px';
  lab.textContent = item.name;
  legend.appendChild(key);
  legend.appendChild(lab);
});
</script>
</body>
</html>
